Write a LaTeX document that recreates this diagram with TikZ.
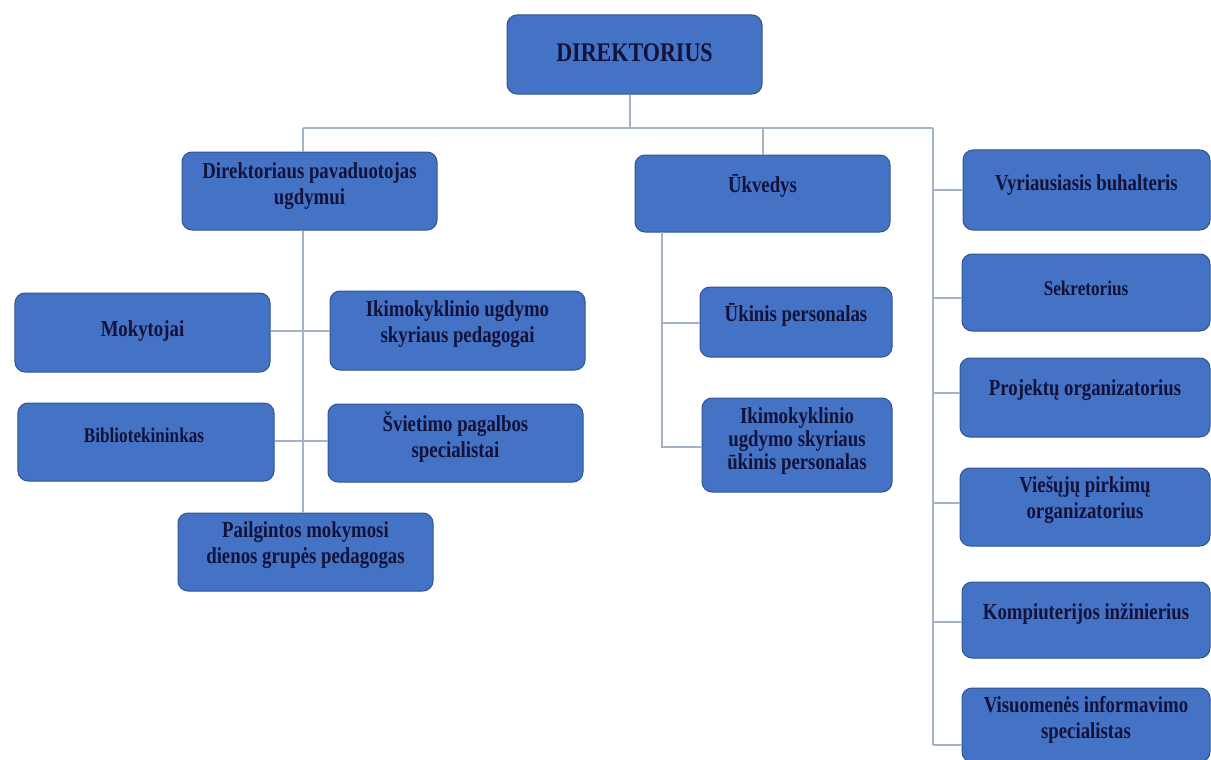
\documentclass[tikz,border=0pt]{standalone}
\usepackage{fontspec}
\setmainfont{Liberation Serif}[FakeStretch=0.82]
\definecolor{boxfill}{HTML}{4472C4}
\definecolor{boxline}{HTML}{2F5597}
\definecolor{txtcol}{HTML}{12123A}
\definecolor{linkcol}{HTML}{A3B2C6}
\tikzset{
  orgbox/.style={draw=boxline, line width=1bp, fill=boxfill, rounded corners=10bp, inner sep=0pt},
  lbl/.style={text=txtcol, align=center, inner sep=0pt, font=\bfseries\fontsize{23}{26}\selectfont},
  lblbig/.style={lbl, font=\bfseries\fontsize{27}{30}\selectfont},
  lblsmall/.style={lbl, font=\bfseries\fontsize{21}{24}\selectfont},
  link/.style={draw=linkcol, line width=1.4bp}
}
\begin{document}
\begin{tikzpicture}[x=1bp, y=-1bp]
\useasboundingbox (0,0) rectangle (1211,760);
\fill[white] (0,0) rectangle (1211,760);

% boxes
\node[orgbox, minimum width=255bp, minimum height=79bp] (dir) at (634.5,54.5) {};
\node[orgbox, minimum width=255bp, minimum height=78bp] (dp) at (309.5,191) {};
\node[orgbox, minimum width=255bp, minimum height=77bp] (uk) at (762.5,193.5) {};
\node[orgbox, minimum width=255bp, minimum height=79bp] (mok) at (142.5,332.5) {};
\node[orgbox, minimum width=255bp, minimum height=79bp] (iki) at (457.5,330.5) {};
\node[orgbox, minimum width=256bp, minimum height=78bp] (bib) at (146,442) {};
\node[orgbox, minimum width=255bp, minimum height=78bp] (svi) at (455.5,443) {};
\node[orgbox, minimum width=255bp, minimum height=78bp] (pai) at (305.5,552) {};
\node[orgbox, minimum width=192bp, minimum height=70bp] (uki) at (796,322) {};
\node[orgbox, minimum width=190bp, minimum height=94bp] (iku) at (797,445) {};
\node[orgbox, minimum width=247bp, minimum height=80bp] (vyr) at (1086.5,190) {};
\node[orgbox, minimum width=248bp, minimum height=77bp] (sek) at (1086,292.5) {};
\node[orgbox, minimum width=250bp, minimum height=79bp] (pro) at (1085,397.5) {};
\node[orgbox, minimum width=250bp, minimum height=78bp] (vie) at (1085,507) {};
\node[orgbox, minimum width=248bp, minimum height=76bp] (kom) at (1086,620) {};
\node[orgbox, minimum width=248bp, minimum height=74bp] (vis) at (1086,725) {};

% texts
\node[lblbig] (dirt) at (634.5,53) {DIREKTORIUS};
\node[lbl] (dpt) at (309.5,186.5) {Direktoriaus pavaduotojas\\ugdymui};
\node[lbl] (ukt) at (762.5,186) {Ūkvedys};
\node[lbl] (mokt) at (142.5,331) {Mokytojai};
\node[lbl] (ikit) at (457.5,324) {Ikimokyklinio ugdymo\\skyriaus pedagogai};
\node[lblsmall] (bibt) at (144,435) {Bibliotekininkas};
\node[lbl] (svit) at (455.5,437) {Švietimo pagalbos\\specialistai};
\node[lbl] (pait) at (305.5,545.5) {Pailgintos mokymosi\\dienos grupės pedagogas};
\node[lbl] (ukit) at (796,315) {Ūkinis personalas};
\node[lbl, font=\bfseries\fontsize{23}{23.5}\selectfont] (ikut) at (797,441) {Ikimokyklinio\\ugdymo skyriaus\\ūkinis personalas};
\node[lbl] (vyrt) at (1086.5,185) {Vyriausiasis buhalteris};
\node[lblsmall] (sekt) at (1086,288) {Sekretorius};
\node[lbl] (prot) at (1085,390) {Projektų organizatorius};
\node[lbl] (viet) at (1085,500) {Viešųjų pirkimų\\organizatorius};
\node[lbl] (komt) at (1086,614) {Kompiuterijos inžinierius};
\node[lbl] (vist) at (1086,720) {Visuomenės informavimo\\specialistas};

% connector junctions
\coordinate (busL) at (303,128);
\coordinate (busR) at (933,128);
\coordinate (busM) at (630,128);
\coordinate (busU) at (763,128);
\coordinate (rEnd) at (933,745);

\draw[link] (dir.south -| busM) -- (busM);
\draw[link] (busL) -- (busR);
\draw[link] (busL) -- (busL |- dp.north);
\draw[link] (busU) -- (busU |- uk.north);
\draw[link] (busR) -- (rEnd);

% left branch
\draw[link] (dp.south -| busL) -- (busL |- pai.north);
\draw[link] (mok.east |- 0,331) -- (iki.west |- 0,331);
\draw[link] (bib.east |- 0,441) -- (svi.west |- 0,441);

% middle branch
\coordinate (ukTop) at (662,232);
\coordinate (ukBot) at (662,447);
\draw[link] (ukTop) -- (ukBot) -- (iku.west |- ukBot);
\draw[link] (ukTop |- 0,323) -- (uki.west |- 0,323);

% right branch
\draw[link] (busR |- 0,190) -- (vyr.west |- 0,190);
\draw[link] (busR |- 0,298) -- (sek.west |- 0,298);
\draw[link] (busR |- 0,393) -- (pro.west |- 0,393);
\draw[link] (busR |- 0,503) -- (vie.west |- 0,503);
\draw[link] (busR |- 0,622) -- (kom.west |- 0,622);
\draw[link] (rEnd) -- (vis.west |- rEnd);
\end{tikzpicture}
\end{document}
